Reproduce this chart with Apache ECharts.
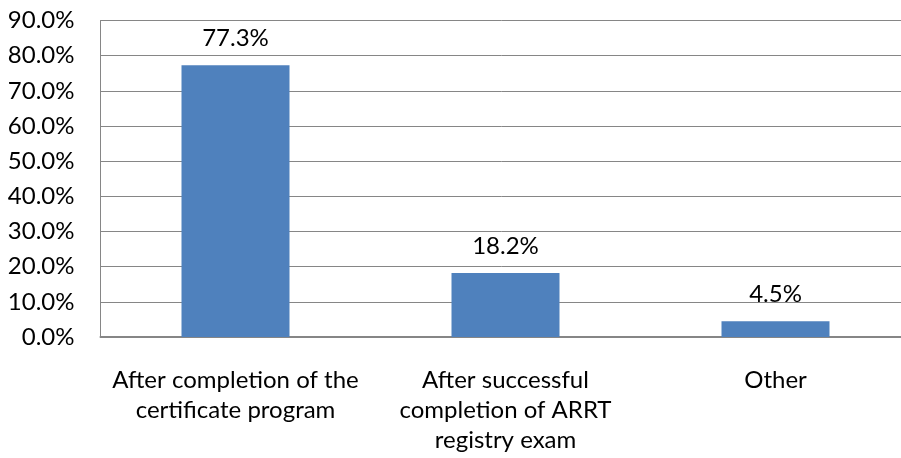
<!DOCTYPE html>
<html>
<head>
<meta charset="utf-8">
<script src="https://cdn.jsdelivr.net/npm/echarts@6/dist/echarts.min.js"></script>
<style>
html,body{margin:0;padding:0;background:#fff;}
#chart{width:901px;height:458px;}
</style>
</head>
<body>
<div id="chart"></div>
<script>
var categories = ["After completion of the\ncertificate program", "After successful\ncompletion of ARRT\nregistry exam", "Other"];
var values = [77.3, 18.2, 4.5];
var yMin = 0, yMax = 90, yStep = 10;

var FONT = 'Lato';
var chart = echarts.init(document.getElementById('chart'), null, {renderer: 'canvas'});
chart.setOption({
  animation: false,
  backgroundColor: '#ffffff',
  grid: {left: 100.5, width: 810, top: 20.5, bottom: 121, containLabel: false, outerBoundsMode: 'none'},
  xAxis: {
    type: 'category',
    data: categories,
    axisLine: {show: true, lineStyle: {color: '#868686', width: 2}},
    axisTick: {show: false},
    axisLabel: {color: '#000', fontFamily: FONT, fontSize: 24, lineHeight: 30, margin: 28, interval: 0}
  },
  yAxis: {
    type: 'value',
    min: yMin, max: yMax, interval: yStep,
    axisLine: {show: true, lineStyle: {color: '#868686', width: 1}},
    axisTick: {show: false},
    splitLine: {show: true, lineStyle: {color: '#868686', width: 1}},
    axisLabel: {color: '#000', fontFamily: FONT, fontSize: 24, margin: 26,
      formatter: function (v) { return v.toFixed(1) + '%'; }}
  },
  series: [{
    type: 'bar',
    data: values,
    barWidth: '40%',
    itemStyle: {color: '#4F81BD'},
    label: {show: true, position: 'top', distance: 15, color: '#000', fontFamily: FONT, fontSize: 24, lineHeight: 24,
      formatter: function (p) { return p.value.toFixed(1) + '%'; }}
  }]
});
</script>
</body>
</html>
